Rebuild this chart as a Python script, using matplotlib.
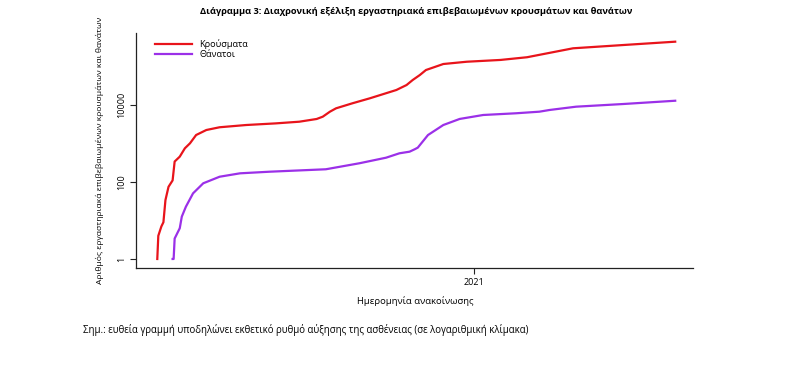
import matplotlib
matplotlib.use("Agg")
import matplotlib.pyplot as plt
import numpy as np
import pandas as pd

plt.rcParams['font.family'] = ['Open Sans', 'DejaVu Sans']

case_dates = ["2020-02-26", "2020-02-27", "2020-03-01", "2020-03-03", "2020-03-05",
              "2020-03-08", "2020-03-12", "2020-03-14", "2020-03-19", "2020-03-24",
              "2020-03-29", "2020-04-04", "2020-04-14", "2020-04-27", "2020-05-23",
              "2020-06-21", "2020-07-14", "2020-07-31", "2020-08-06", "2020-08-13",
              "2020-08-19", "2020-09-04", "2020-09-21", "2020-10-17",
              "2020-10-27", "2020-11-02", "2020-11-09", "2020-11-15", "2020-12-02",
              "2020-12-25", "2021-01-27", "2021-02-22", "2021-03-11", "2021-04-08",
              "2021-05-27", "2021-07-17"]
case_values = [1, 4, 7, 9, 34, 75, 110, 340, 455, 750, 1010, 1660, 2240, 2640, 3020,
               3330, 3680, 4330, 4970, 6700, 8200, 11070, 14900, 24500, 33000, 44500,
               60000, 81000, 116000, 133000, 148000, 174000, 213000, 297000, 361000,
               441000]

death_dates = ["2020-03-12", "2020-03-13", "2020-03-14", "2020-03-19", "2020-03-21",
               "2020-03-25", "2020-04-01", "2020-04-11", "2020-04-27", "2020-05-17",
               "2020-06-15", "2020-06-25", "2020-08-09", "2020-09-11", "2020-10-07",
               "2020-10-20", "2020-10-30", "2020-11-04", "2020-11-07", "2020-11-17",
               "2020-12-02", "2020-12-18", "2021-01-10", "2021-02-11", "2021-03-06",
               "2021-03-16", "2021-04-11", "2021-05-27", "2021-07-17"]
death_values = [1, 1, 3.4, 6.3, 12.6, 22.8, 50.7, 92.6, 137, 168, 185, 190, 214, 307,
                428, 556, 613, 708, 780, 1660, 3020, 4340, 5500, 6090, 6700, 7420,
                9040, 10600, 12900]

series_labels = ["Κρούσματα", "Θάνατοι"]
y_ticks = [1, 100, 10000]
x_tick_label = "2021"

title = "Διάγραμμα 3: Διαχρονική εξέλιξη εργαστηριακά επιβεβαιωμένων κρουσμάτων και θανάτων"
ylabel = "Αριθμός εργαστηριακά επιβεβαιωμένων κρουσμάτων και θανάτων"
xlabel = "Ημερομηνία ανακοίνωσης"
note = "Σημ.: ευθεία γραμμή υποδηλώνει εκθετικό ρυθμό αύξησης της ασθένειας (σε λογαριθμική κλίμακα)"

fig = plt.figure(figsize=(8.08, 3.8), dpi=100)
ax = fig.add_axes([136/808, 1-268/380, (693-136)/808, (268-33)/380])

ax.plot(pd.to_datetime(case_dates), case_values, color="#e8141b", lw=1.6, label=series_labels[0])
ax.plot(pd.to_datetime(death_dates), death_values, color="#9b30e8", lw=1.6, label=series_labels[1])

ax.set_yscale("log")
ax.set_ylim(10**-0.234, 10**5.87)
ax.set_xlim(pd.Timestamp("2020-02-05 04:00"), pd.Timestamp("2021-08-03 10:00"))

ax.set_yticks(y_ticks)
ax.set_yticklabels([str(v) for v in y_ticks], rotation=90, va="center", fontsize=6.5)
ax.yaxis.set_minor_locator(matplotlib.ticker.NullLocator())
ax.set_xticks([pd.Timestamp("2021-01-01")])
ax.set_xticklabels([x_tick_label], fontsize=6.5)
ax.tick_params(axis="both", length=4, width=0.8, color="#222222", pad=3)

for s in ["top", "right"]:
    ax.spines[s].set_visible(False)
for s in ["left", "bottom"]:
    ax.spines[s].set_linewidth(0.9)
    ax.spines[s].set_color("#222222")

leg = ax.legend(loc="upper left", bbox_to_anchor=(0.022, 1.0), frameon=False,
                fontsize=6.6, handlelength=4.1, handletextpad=0.75, labelspacing=0.12,
                borderaxespad=0.3)

fig.text(416/808, 1-11/380, title, ha="center", va="center", fontsize=6.7, fontweight="bold")
fig.text(100/808, 1-150/380, ylabel, ha="center", va="center", rotation=90, fontsize=6.1)
fig.text(415/808, 1-301/380, xlabel, ha="center", va="center", fontsize=6.8)
fig.text(83/808, 1-330/380, note, ha="left", va="center", fontsize=6.9)

fig.savefig("out.png", dpi=100)
